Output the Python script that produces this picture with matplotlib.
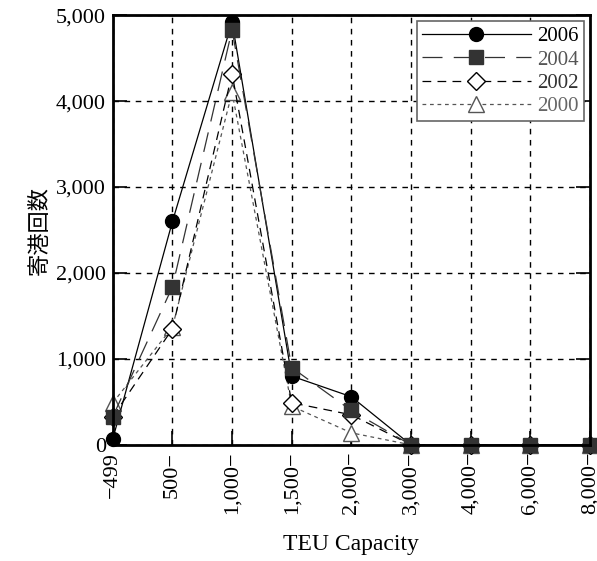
import matplotlib
matplotlib.use("Agg")
import matplotlib.pyplot as plt

# TEU capacity bands and port-call counts per survey year
categories = ["\u2212499", "500\u2212", "1,000\u2212", "1,500\u2212", "2,000\u2212",
              "3,000\u2212", "4,000\u2212", "6,000\u2212", "8,000\u2212"]
calls_2006 = [70, 2600, 4920, 800, 560, 0, 0, 0, 0]
calls_2004 = [330, 1840, 4830, 900, 400, 0, 0, 0, 0]
calls_2002 = [330, 1350, 4320, 490, 350, 0, 0, 0, 0]
calls_2000 = [490, 1370, 4100, 450, 140, 0, 0, 0, 0]
yticks = [0, 1000, 2000, 3000, 4000, 5000]

serif = ["Liberation Serif", "DejaVu Serif"]
plt.rcParams["font.family"] = serif

fig = plt.figure(figsize=(5.97, 5.61), dpi=100, facecolor="w")
ax = fig.add_axes([0.189, 0.207, 0.799, 0.766])

x = list(range(len(categories)))
# name, values, line style, legend text colour, stacking order
series = [
    ("2006", calls_2006, dict(color="black", ls="-", marker="o", mfc="black",
                              mec="black", ms=10), "black", 5),
    ("2004", calls_2004, dict(color="#333333", ls=(0, (16, 9)), marker="s",
                              mfc="#333333", mec="#333333", ms=10), "#555555", 6),
    ("2002", calls_2002, dict(color="black", ls=(0, (7, 5)), marker="D",
                              mfc="white", mec="black", ms=9), "#333333", 4),
    ("2000", calls_2000, dict(color="#555555", ls=(0, (3, 3)), marker="^",
                              mfc="white", mec="#555555", ms=12), "#666666", 3),
]

handles = []
for name, vals, style, _, z in series:
    h, = ax.plot(x, vals, lw=0.9, clip_on=False, zorder=z, label=name,
                 **style)
    handles.append(h)

ax.set_xlim(0, len(categories) - 1)
ax.set_ylim(0, 5000)
ax.set_xticks(x)
ax.set_xticklabels(categories, rotation=90, fontsize=16)
ax.set_yticks(yticks)
ax.set_yticklabels(["{:,}".format(v) for v in yticks], fontsize=16)
ax.tick_params(direction="in", length=10, width=1.2, top=False, right=True,
               pad=5)
ax.grid(True, color="black", ls=(0, (4, 4)), lw=1)
for s in ax.spines.values():
    s.set_linewidth(2)
    s.set_zorder(7)

ax.set_xlabel("TEU Capacity", fontsize=17, labelpad=14)
ax.set_ylabel("寄港回数", fontsize=16, labelpad=4,
              family=["Noto Sans CJK JP", "DejaVu Sans"])

leg = ax.legend(handles=handles, loc="upper right", fontsize=15,
                handlelength=5.2, markerfirst=True, fancybox=False,
                framealpha=1, edgecolor="#666666", borderaxespad=0.3,
                labelspacing=0.18, handletextpad=0.3, borderpad=0.25)
leg.set_zorder(8)
leg.get_frame().set_linewidth(1.2)
for txt, (_, _, _, tc, _) in zip(leg.get_texts(), series):
    txt.set_color(tc)

fig.savefig("out.png", dpi=100)
